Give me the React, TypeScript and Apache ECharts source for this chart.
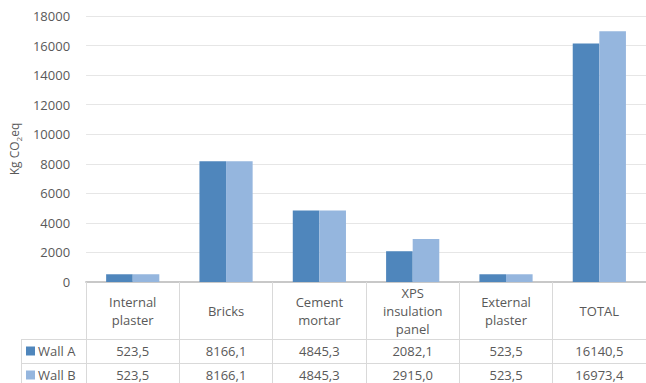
import React, { useEffect, useRef } from "react";
import * as echarts from "echarts";

const categories = ["Internal\nplaster", "Bricks", "Cement\nmortar", "XPS\ninsulation\npanel", "External\nplaster", "TOTAL"];
const wallA = [523.5, 8166.1, 4845.3, 2082.1, 523.5, 16140.5];
const wallB = [523.5, 8166.1, 4845.3, 2915.0, 523.5, 16973.4];
const seriesNames = ["Wall A", "Wall B"];
const yTicks = { min: 0, max: 18000, interval: 2000 };

const FONT = "Open Sans";
const TXT = "#595959";
const LINE = "#d9d9d9";
const fmt = (v: number) => v.toFixed(1).replace(".", ",");

export default function App() {
  const ref = useRef<HTMLDivElement>(null);
  useEffect(() => {
    if (!ref.current) return;
    const chart = echarts.init(ref.current, undefined, { renderer: "svg" });
    const valueAxis = (vals: number[], margin: number) => ({
      type: "category",
      data: categories,
      gridIndex: 0,
      position: "bottom",
      axisLine: { show: false },
      axisTick: { show: false },
      splitLine: { show: false },
      axisLabel: {
        interval: 0,
        margin,
        verticalAlign: "middle",
        color: TXT,
        fontFamily: FONT,
        fontSize: 13,
        formatter: (_v: string, i: number) => fmt(vals[i]),
      },
    });
    const legendFor = (name: string, top: number) => ({
      data: [name],
      orient: "vertical",
      left: 26,
      top,
      padding: 0,
      itemWidth: 9,
      itemHeight: 9,
      icon: "rect",
      selectedMode: false,
      textStyle: { color: TXT, fontFamily: FONT, fontSize: 13, lineHeight: 14, padding: [0, 0, 0, -2] },
    });
    chart.setOption({
      animation: false,
      textStyle: { fontFamily: FONT },
      grid: { left: 81, top: 16, width: 567, height: 266, containLabel: false },
      legend: [legendFor(seriesNames[0], 344), legendFor(seriesNames[1], 368)],
      xAxis: [
        {
          type: "category",
          data: categories,
          position: "bottom",
          axisLine: { show: true, lineStyle: { color: "#c8c8c8", width: 2 } },
          axisTick: { show: true, length: 101, alignWithLabel: false, lineStyle: { color: LINE, width: 1 } },
          axisLabel: {
            interval: 0,
            margin: 29,
            verticalAlign: "middle",
            color: TXT,
            fontFamily: FONT,
            fontSize: 13,
            lineHeight: 18,
            align: "center",
          },
        },
        valueAxis(wallA, 69),
        valueAxis(wallB, 93),
      ],
      yAxis: {
        type: "value",
        min: yTicks.min,
        max: yTicks.max,
        interval: yTicks.interval,
        axisLine: { show: false },
        axisTick: { show: false },
        splitLine: { lineStyle: { color: "#e6e6e6", width: 1 } },
        axisLabel: { color: TXT, fontFamily: FONT, fontSize: 13, margin: 16, formatter: (v: number) => String(v) },
        name: "{a|Kg CO}{s|2}{a|eq}",
        nameLocation: "middle",
        nameRotate: 90,
        nameGap: 60,
        nameTextStyle: {
          color: TXT,
          fontFamily: FONT,
          rich: {
            a: { fontSize: 12, color: TXT, fontFamily: FONT, lineHeight: 16 },
            s: { fontSize: 8, color: TXT, fontFamily: FONT, lineHeight: 16, verticalAlign: "bottom" },
          },
        },
      },
      series: [
        {
          name: seriesNames[0],
          type: "bar",
          data: wallA,
          barGap: "0%",
          barCategoryGap: "43%",
          itemStyle: { color: "#4f86bc" },
        },
        {
          name: seriesNames[1],
          type: "bar",
          data: wallB,
          barGap: "0%",
          barCategoryGap: "43%",
          itemStyle: { color: "#95b6de" },
        },
      ],
      graphic: [
        { type: "line", shape: { x1: 21, y1: 339.5, x2: 646, y2: 339.5 }, style: { stroke: LINE, lineWidth: 1 } },
        { type: "line", shape: { x1: 21, y1: 363.5, x2: 646, y2: 363.5 }, style: { stroke: LINE, lineWidth: 1 } },
        { type: "line", shape: { x1: 21.5, y1: 339, x2: 21.5, y2: 383 }, style: { stroke: LINE, lineWidth: 1 } },
      ],
    });
    return () => chart.dispose();
  }, []);
  return <div ref={ref} style={{ position: "fixed", left: 0, top: 0, width: 646, height: 383, background: "#fff" }} />;
}
